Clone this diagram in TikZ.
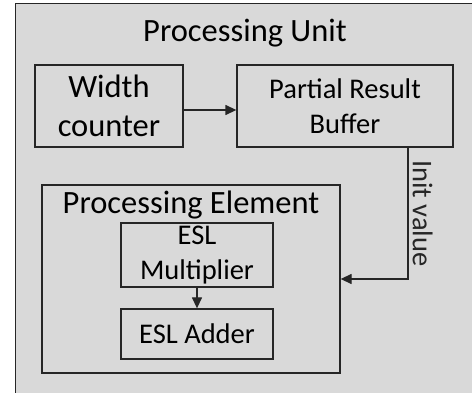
\documentclass[tikz,border=0pt]{standalone}
\usepackage{fontspec}
\setmainfont{Carlito}
\usetikzlibrary{arrows.meta}
\definecolor{boxgray}{RGB}{217,217,217}
\definecolor{edgegray}{RGB}{38,38,38}
\tikzset{
    unitbox/.style={rectangle, draw=edgegray, line width=1.3pt, fill=boxgray, inner sep=0pt},
    bigtext/.style={font=\fontsize{32.5}{39}\selectfont, align=center},
    midtext/.style={font=\fontsize{28.5}{35}\selectfont, align=center},
    flowarrow/.style={-{Triangle[length=11pt,width=10pt]}, line width=1.3pt, edgegray},
}

\begin{document}
\begin{tikzpicture}[x=1pt,y=-1pt]
  \useasboundingbox (0,0) rectangle (472,393);
  \clip (0,0) rectangle (472,393);
  % Outer unit (runs off the page)
  \node[unitbox, minimum width=480pt, minimum height=420pt, anchor=north west]
    (pu) at (15,3) {};
  \node[bigtext] (putitle) at (245,33) {Processing Unit};
  % Top row
  \node[unitbox, bigtext, minimum width=148pt, minimum height=82pt]
    (wc) at (109,106) {Width\\counter};
  \node[unitbox, midtext, minimum width=216pt, minimum height=82pt]
    (prb) at (345,106) {Partial Result\\Buffer};
  % Processing element
  \node[unitbox, minimum width=298pt, minimum height=188pt] (pe) at (191,279) {};
  \node[bigtext] (petitle) at (191,205) {Processing Element};
  \node[unitbox, midtext, minimum width=152pt, minimum height=64pt]
    (mul) at (197,255) {ESL\\Multiplier};
  \node[unitbox, midtext, minimum width=152pt, minimum height=50pt]
    (add) at (197,334) {ESL Adder};
  % Connections
  \draw[flowarrow] ([yshift=-4pt]wc.east) -- ([yshift=-4pt]prb.west);
  \draw[flowarrow] (mul) -- (add);
  \draw[flowarrow] ([xshift=63pt]prb.south) |- (pe.east)
    node[pos=0.25, anchor=south, rotate=-90, midtext, inner sep=4pt] (iv) {Init value};
\end{tikzpicture}
\end{document}
